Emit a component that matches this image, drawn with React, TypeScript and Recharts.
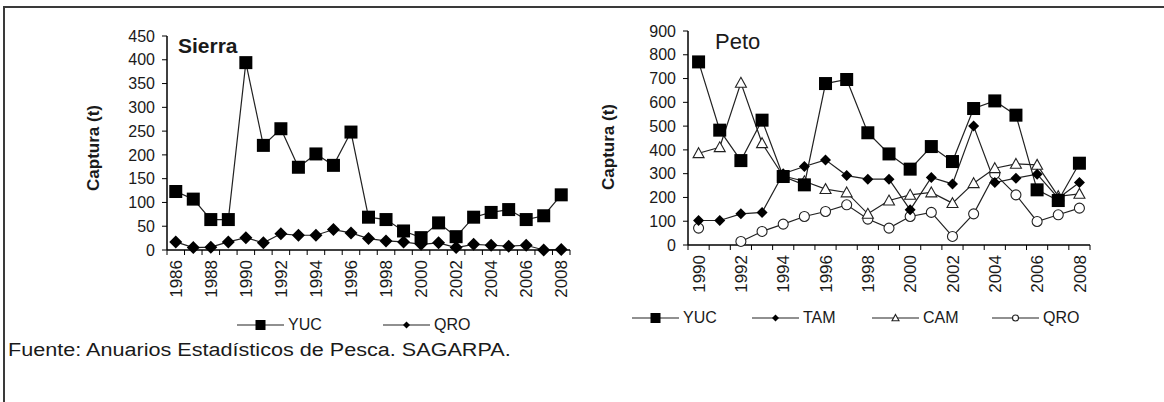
import { LineChart, Line, XAxis, YAxis, Legend } from "recharts";

const FONT = "'Liberation Sans', Arial, Helvetica, sans-serif";
const INK = "#1a1a1a";

// Sierra, 1986-2008
const sierraYears = [
  "1986", "1987", "1988", "1989", "1990", "1991", "1992", "1993", "1994", "1995", "1996", "1997",
  "1998", "1999", "2000", "2001", "2002", "2003", "2004", "2005", "2006", "2007", "2008",
];
const sierraYUC = [123, 107, 64, 64, 394, 220, 255, 174, 202, 178, 248, 69, 64, 40, 26, 57, 28, 69, 79, 85, 64, 72, 116];
const sierraQRO = [17, 5, 6, 17, 26, 15, 34, 31, 31, 43, 36, 24, 19, 17, 12, 15, 5, 12, 10, 8, 10, 0, 1];
const sierraTicks = [0, 50, 100, 150, 200, 250, 300, 350, 400, 450];

// Peto, 1990-2008
const petoYears = [
  "1990", "1991", "1992", "1993", "1994", "1995", "1996", "1997", "1998", "1999",
  "2000", "2001", "2002", "2003", "2004", "2005", "2006", "2007", "2008",
];
const petoYUC = [770, 483, 355, 525, 288, 253, 679, 696, 472, 383, 319, 414, 351, 574, 606, 546, 232, 187, 344];
const petoTAM = [103, 103, 131, 137, 300, 330, 358, 292, 277, 277, 148, 284, 257, 500, 263, 281, 298, 197, 263];
const petoCAM = [386, 411, 682, 428, 290, 268, 235, 221, 131, 187, 211, 221, 176, 260, 323, 341, 337, 205, 215];
const petoQRO = [71, null, 15, 57, 88, 120, 141, 169, 109, 71, 120, 137, 36, 131, 299, 211, 99, 127, 155];
const petoTicks = [0, 100, 200, 300, 400, 500, 600, 700, 800, 900];

const sierraData = sierraYears.map((year, i) => ({ year, YUC: sierraYUC[i], QRO: sierraQRO[i] }));
const petoData = petoYears.map((year, i) => ({
  year,
  YUC: petoYUC[i],
  TAM: petoTAM[i],
  CAM: petoCAM[i],
  QRO: petoQRO[i],
}));

type Shape = "square" | "diamond" | "triangle" | "circle";

const Marker = ({ shape, cx, cy, s }: { shape: Shape; cx: number; cy: number; s: number }) => {
  if (shape === "square")
    return <rect x={cx - s} y={cy - s} width={2 * s} height={2 * s} fill="#000" />;
  if (shape === "diamond")
    return (
      <polygon
        points={`${cx},${cy - s} ${cx + s},${cy} ${cx},${cy + s} ${cx - s},${cy}`}
        fill="#000"
      />
    );
  if (shape === "triangle")
    return (
      <polygon
        points={`${cx},${cy - s} ${cx + s},${cy + s * 0.8} ${cx - s},${cy + s * 0.8}`}
        fill="#fff"
        stroke="#222"
        strokeWidth={1.1}
      />
    );
  return <circle cx={cx} cy={cy} r={s} fill="#fff" stroke="#222" strokeWidth={1.1} />;
};

const dotFor = (shape: Shape, s: number) => (p: any) => {
  if (p.cx == null || p.cy == null || p.value == null) return <g key={`e${p.index}`} />;
  return (
    <g key={`d${p.index}`}>
      <Marker shape={shape} cx={p.cx} cy={p.cy} s={s} />
    </g>
  );
};

const sierraSeries = [
  { key: "QRO", shape: "diamond" as Shape, size: 6.5, legend: 3.5 },
  { key: "YUC", shape: "square" as Shape, size: 6.5, legend: 5 },
];
const sierraLegendOrder = ["YUC", "QRO"];

const petoSeries = [
  { key: "QRO", shape: "circle" as Shape, size: 5, legend: 3 },
  { key: "CAM", shape: "triangle" as Shape, size: 5.5, legend: 3.5 },
  { key: "TAM", shape: "diamond" as Shape, size: 5.5, legend: 3.5 },
  { key: "YUC", shape: "square" as Shape, size: 6.5, legend: 5 },
];
const petoLegendOrder = ["YUC", "TAM", "CAM", "QRO"];

const YearTick = ({ x, y, payload, index, half, last }: any) => (
  <g>
    <line x1={x - half} x2={x - half} y1={y} y2={y + 5} stroke="#000" />
    {index === last && <line x1={x + half} x2={x + half} y1={y} y2={y + 5} stroke="#000" />}
    {index % 2 === 0 && (
      <text
        transform={`translate(${x},${y + 10}) rotate(-90)`}
        textAnchor="end"
        dy="0.36em"
        fontSize={17}
        fill={INK}
        fontFamily={FONT}
      >
        {payload.value}
      </text>
    )}
  </g>
);

const LegendRow = ({ order, series, itemWidth }: any) => (
  <div style={{ display: "flex", alignItems: "center", fontFamily: FONT, fontSize: 16, color: INK }}>
    {order.map((k: string) => {
      const s = series.find((x: any) => x.key === k);
      return (
        <div key={k} style={{ display: "flex", alignItems: "center", width: itemWidth }}>
          <svg width={47} height={20}>
            <line x1={0} x2={47} y1={10} y2={10} stroke="#222" strokeWidth={1.2} />
            <Marker shape={s.shape} cx={23.5} cy={10} s={s.legend} />
          </svg>
          <span style={{ marginLeft: 4 }}>{k}</span>
        </div>
      );
    })}
  </div>
);

const Panel = ({ data, series, order, ticks, max, width, height, margin, legendPos, labelDx, labelDy, itemWidth }: any) => {
  const plotW = width - margin.left - margin.right - 60;
  const half = plotW / (2 * data.length);
  return (
    <LineChart width={width} height={height} data={data} margin={margin}>
      <XAxis
        dataKey="year"
        interval={0}
        tickSize={0}
        tickMargin={0}
        height={60}
        padding={{ left: half, right: half }}
        axisLine={{ stroke: "#000", strokeWidth: 1.5 }}
        tickLine={false}
        tick={(p: any) => (
          <YearTick x={p.x} y={p.y} payload={p.payload} index={p.index} half={half} last={data.length - 1} />
        )}
      />
      <YAxis
        type="number"
        domain={[0, max]}
        ticks={ticks}
        interval={0}
        width={60}
        tickSize={5}
        tickMargin={7}
        axisLine={{ stroke: "#000", strokeWidth: 1.5 }}
        tickLine={{ stroke: "#000" }}
        tick={{ fontSize: 16, fill: INK, fontFamily: FONT }}
        label={{
          value: "Captura (t)",
          angle: -90,
          position: "center",
          dx: labelDx,
          dy: labelDy,
          fontSize: 17,
          fontWeight: 700,
          fill: INK,
          fontFamily: FONT,
        }}
      />
      <Legend
        layout="horizontal"
        verticalAlign="middle"
        align="center"
        wrapperStyle={{ left: legendPos.left, top: legendPos.top, width: 520, height: 20 }}
        content={() => <LegendRow order={order} series={series} itemWidth={itemWidth} />}
      />
      {series.map((s: any) => (
        <Line
          key={s.key}
          dataKey={s.key}
          type="linear"
          stroke="#222"
          strokeWidth={1.2}
          dot={dotFor(s.shape, s.size)}
          activeDot={false}
          connectNulls={false}
          isAnimationActive={false}
        />
      ))}
    </LineChart>
  );
};

export default function App() {
  return (
    <div style={{ position: "absolute", left: 0, top: 0, width: 1164, height: 402, background: "#fff", overflow: "hidden" }}>
      <div style={{ position: "absolute", left: 3, top: 6, right: 0, bottom: 0, borderTop: "2.5px solid #3a3a3a", borderLeft: "2.5px solid #3a3a3a" }} />

      <div style={{ position: "absolute", left: 0, top: 0 }}>
        <Panel
          data={sierraData}
          series={sierraSeries}
          order={sierraLegendOrder}
          ticks={sierraTicks}
          max={450}
          width={600}
          height={380}
          margin={{ top: 36, right: 30, bottom: 70, left: 107 }}
          legendPos={{ left: 237, top: 315 }}
          labelDx={-44}
          labelDy={5}
          itemWidth={146}
        />
      </div>
      <div style={{ position: "absolute", left: 590, top: 0 }}>
        <Panel
          data={petoData}
          series={petoSeries}
          order={petoLegendOrder}
          ticks={petoTicks}
          max={900}
          width={520}
          height={380}
          margin={{ top: 31, right: 20, bottom: 75, left: 38 }}
          legendPos={{ left: 42, top: 308 }}
          labelDx={-50}
          labelDy={9}
          itemWidth={120}
        />
      </div>

      <div style={{ position: "absolute", left: 178, top: 35, fontFamily: FONT, fontSize: 21, fontWeight: 700, lineHeight: 1, color: INK }}>
        Sierra
      </div>
      <div style={{ position: "absolute", left: 715, top: 31, fontFamily: FONT, fontSize: 22, lineHeight: 1, color: INK }}>
        Peto
      </div>
      <div
        style={{
          position: "absolute",
          left: 8,
          top: 341,
          fontFamily: FONT,
          fontSize: 18,
          lineHeight: 1,
          color: INK,
          whiteSpace: "nowrap",
          transform: "scaleX(1.2)",
          transformOrigin: "left top",
        }}
      >
        Fuente: Anuarios Estadísticos de Pesca. SAGARPA.
      </div>
    </div>
  );
}
